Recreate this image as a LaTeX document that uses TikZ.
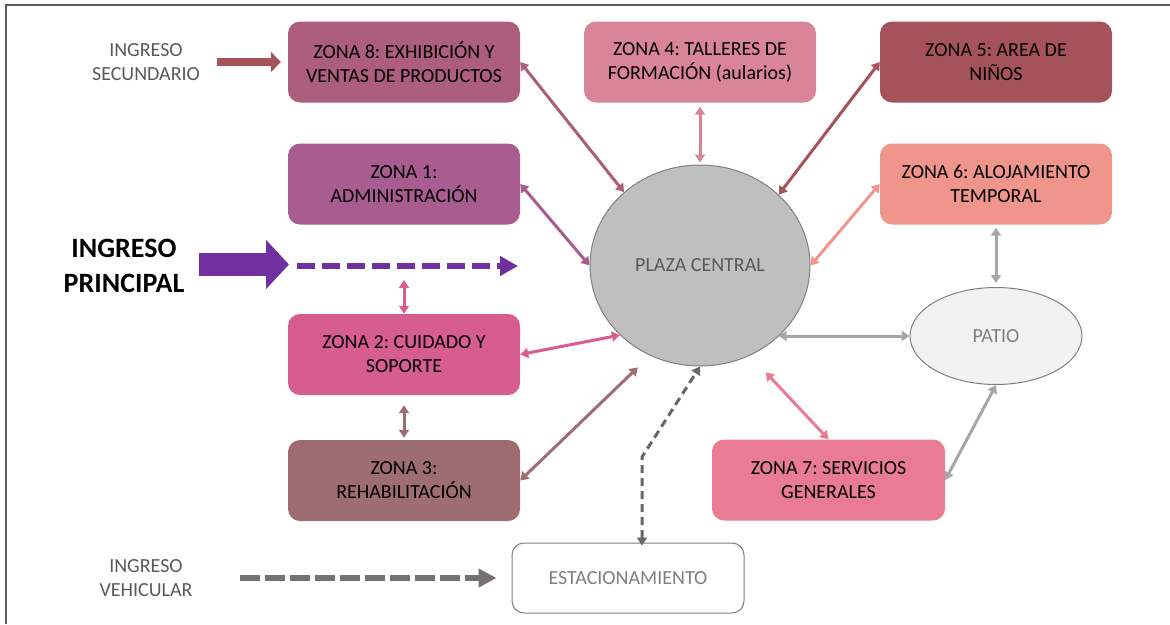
\documentclass[tikz,border=0pt]{standalone}
\usepackage{fontspec}
\setmainfont{Carlito}
\frenchspacing
\usetikzlibrary{arrows.meta,shapes.geometric,calc}
\definecolor{cA}{HTML}{AC5E7C}
\definecolor{cB}{HTML}{DA8499}
\definecolor{cC}{HTML}{A5525A}
\definecolor{cD}{HTML}{A85C8F}
\definecolor{cE}{HTML}{F0958B}
\definecolor{cF}{HTML}{D75C90}
\definecolor{cG}{HTML}{9E6D72}
\definecolor{cH}{HTML}{EA7B94}
\definecolor{cPurple}{HTML}{7030A0}
\definecolor{cGrayLine}{HTML}{A6A6A6}
\definecolor{cDash}{HTML}{767171}
\definecolor{cTxt}{HTML}{595959}
\definecolor{cBorder}{HTML}{7F7F7F}
\definecolor{cPlaza}{HTML}{BFBFBF}
\definecolor{cPatio}{HTML}{F2F2F2}
\definecolor{cFrame}{HTML}{5A5A5A}
\tikzset{
  zonebox/.style={rounded corners=12pt, minimum width=232pt, minimum height=81pt,
    inner sep=0pt, align=center, text=black, font=\fontsize{20}{24}\selectfont\frenchspacing},
  label/.style={inner sep=0pt, align=center, text=cTxt, font=\fontsize{20}{24}\selectfont},
  conn/.style={line width=3pt, {Triangle[length=8pt,width=10pt]}-{Triangle[length=8pt,width=10pt]}},
}
\begin{document}
\begin{tikzpicture}[x=1pt,y=-1pt]
\useasboundingbox (0,0) rectangle (1170,624);
% frame
\draw[cFrame, line width=2pt] (6,624) -- (6,5) -- (1170,5);

% zones
\node[zonebox, fill=cA] (z8) at (404,62) {ZONA 8: EXHIBICIÓN Y\\VENTAS DE PRODUCTOS};
\node[zonebox, fill=cB] (z4) at (700,62) {ZONA 4: TALLERES DE\\FORMACIÓN (aularios)};
\node[zonebox, fill=cC] (z5) at (996,62) {ZONA 5: AREA DE\\NIÑOS};
\node[zonebox, fill=cD] (z1) at (404,184) {ZONA 1:\\ADMINISTRACIÓN};
\node[zonebox, fill=cE] (z6) at (996,184) {ZONA 6: ALOJAMIENTO\\TEMPORAL};
\node[zonebox, fill=cF] (z2) at (404,354.5) {ZONA 2: CUIDADO Y\\SOPORTE};
\node[zonebox, fill=cG] (z3) at (404,480.5) {ZONA 3:\\REHABILITACIÓN};
\node[zonebox, fill=cH, minimum width=233pt] (z7) at (828.5,480) {ZONA 7: SERVICIOS\\GENERALES};
\node[zonebox, fill=white, draw=cBorder, line width=1pt, minimum height=70pt, text=cBorder] (est) at (628,578) {ESTACIONAMIENTO};

% ellipses
\node[ellipse, fill=cPlaza, draw=cBorder, line width=1pt, minimum width=220pt, minimum height=201pt,
  inner sep=0pt, text=cTxt, font=\fontsize{20}{24}\selectfont] (pc) at (700,265.5) {PLAZA CENTRAL};
\node[ellipse, fill=cPatio, draw=cBorder, line width=1pt, minimum width=172pt, minimum height=97pt,
  inner sep=0pt, text=cBorder, font=\fontsize{20}{24}\selectfont] (patio) at (996,336) {PATIO};

% entrance labels
\node[label] (isec) at (146,62) {INGRESO\\SECUNDARIO};
\node[label] (iveh) at (146,578) {INGRESO\\VEHICULAR};
\node[inner sep=0pt, align=center, text=black, font=\fontsize{28}{35}\selectfont\bfseries] (iprin) at (124,265.5) {INGRESO\\PRINCIPAL};

% entrance arrows
\draw[cC, line width=8pt, -{Triangle[length=10pt,width=20pt]}] ([xshift=16.5pt]isec.east) -- ([xshift=-7pt]z8.west);
\coordinate (bigend) at (289,264.5);
\draw[cPurple, line width=23pt, -{Triangle[length=23pt,width=48pt]}] ([xshift=14pt]iprin.east |- bigend) -- (bigend);
\coordinate (ds) at (297,266);
\coordinate (de) at (518,266);
\draw[cPurple, line width=6pt, dash pattern=on 18pt off 7pt, -{Triangle[length=18pt,width=19pt]}] (ds) -- (de);
\draw[cDash, line width=6pt, dash pattern=on 20pt off 5pt, -{Triangle[length=18pt,width=18pt]}] ([xshift=47pt]iveh.east) -- ([xshift=-15pt]est.west);

% connectors to plaza
\draw[conn, cA] (z8.east) -- (pc.136.4);
\draw[conn, cD] (z1.east) -- (pc.west);
\draw[conn, cB, shorten <=4pt, shorten >=2pt] (z4.south) -- (pc.north);
\draw[conn, cC] (z5.west) -- (pc.42.5);
\draw[conn, cE] (z6.west) -- (pc.east);
\draw[conn, cF] (z2.east) -- (pc.221.8);
\draw[conn, cG, shorten >=17pt] (z3.east) -- (pc.241.5);
\draw[conn, cH, shorten >=23pt] (z7.north) -- (pc.299.4);
\draw[conn, cGrayLine] (patio.west -| pc.318.6) -- (patio.west);
\draw[conn, cGrayLine, shorten <=3pt, shorten >=4pt] (z6.south) -- (patio.north);
\draw[conn, cGrayLine] (z7.east) -- (patio.south);

% vertical zone links
\draw[conn, cF, shorten <=14pt] (z2.north |- ds) -- (z2.north);
\draw[conn, cG, shorten <=10pt, shorten >=2pt] (z2.south) -- (z3.north);

% parking link
\coordinate (bend) at (642,457);
\draw[cDash!90!black, line width=3pt, dash pattern=on 8pt off 5pt,
  {Triangle[length=8pt,width=10pt]}-{Triangle[length=8pt,width=10pt]}]
  ([xshift=14pt, yshift=-3pt]est.north) -- (bend) -- (pc.south);
\end{tikzpicture}
\end{document}
